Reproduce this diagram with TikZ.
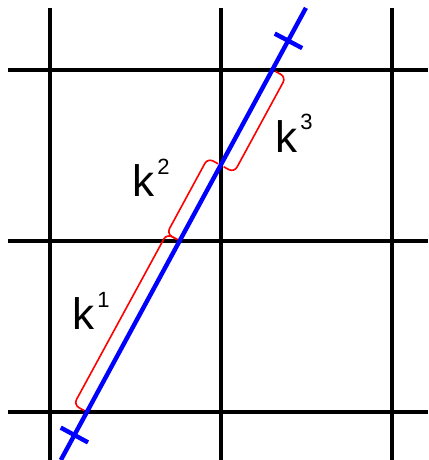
\documentclass[tikz,border=0pt]{standalone}
\usepackage{fontspec}
\setmainfont{Liberation Sans}
\usetikzlibrary{calc}

\newcommand{\kup}[1]{k\hspace{1.5pt}\raisebox{11pt}{\fontsize{11}{11}\selectfont #1}}

\begin{document}
\begin{tikzpicture}[x=3cm, y=3cm,
  grid/.style={line width=1.6pt, black},
  ray/.style={line width=2.2pt, blue},
  kbrace/.style={line width=.8pt, red, rounded corners=3pt},
  klabel/.style={anchor=base west, inner sep=0pt, font=\fontsize{22}{22}\selectfont}]
\useasboundingbox (-0.292,-0.281) rectangle (2.211,2.409);
% grid
\foreach \i in {0,1,2} {
  \draw[grid] (\i,-0.281) -- (\i,2.363);
  \draw[grid] (-0.246,\i) -- (2.211,\i);
}
% ray and crossing points
\coordinate (rb) at (0.064,-0.281);
\coordinate (rt) at (1.497,2.363);
\coordinate (c0) at (0.216,0);
\coordinate (c1) at (0.760,1);
\coordinate (c2) at (1,1.4425);
\coordinate (c3) at (1.303,2);
\coordinate (t0) at (0.143,-0.135);
\coordinate (t1) at (1.395,2.170);
% braces
\draw[kbrace] ($(c0)!1.5pt!90:(c1)$) -- ($(c0)!7.5pt!90:(c1)$) -- ($(c1)!7.5pt!-90:(c0)$) -- ($(c1)!1.5pt!-90:(c0)$);
\draw[kbrace] ($(c1)!1.5pt!90:(c2)$) -- ($(c1)!7.5pt!90:(c2)$) -- ($(c2)!7.5pt!-90:(c1)$) -- ($(c2)!1.5pt!-90:(c1)$);
\draw[kbrace] ($(c2)!1.5pt!-90:(c3)$) -- ($(c2)!7.5pt!-90:(c3)$) -- ($(c3)!7.5pt!90:(c2)$) -- ($(c3)!1.5pt!90:(c2)$);
\draw[ray] (rb) -- (rt);
\draw[ray] ($(t0)!7.75pt!90:(rt)$) -- ($(t0)!7.75pt!-90:(rt)$);
\draw[ray] ($(t1)!7.75pt!90:(rt)$) -- ($(t1)!7.75pt!-90:(rt)$);
% labels
\node[klabel] (k1) at (0.129,0.480) {\kup{1}};
\node[klabel] (k2) at (0.480,1.257) {\kup{2}};
\node[klabel] (k3) at (1.316,1.520) {\kup{3}};
\end{tikzpicture}
\end{document}
